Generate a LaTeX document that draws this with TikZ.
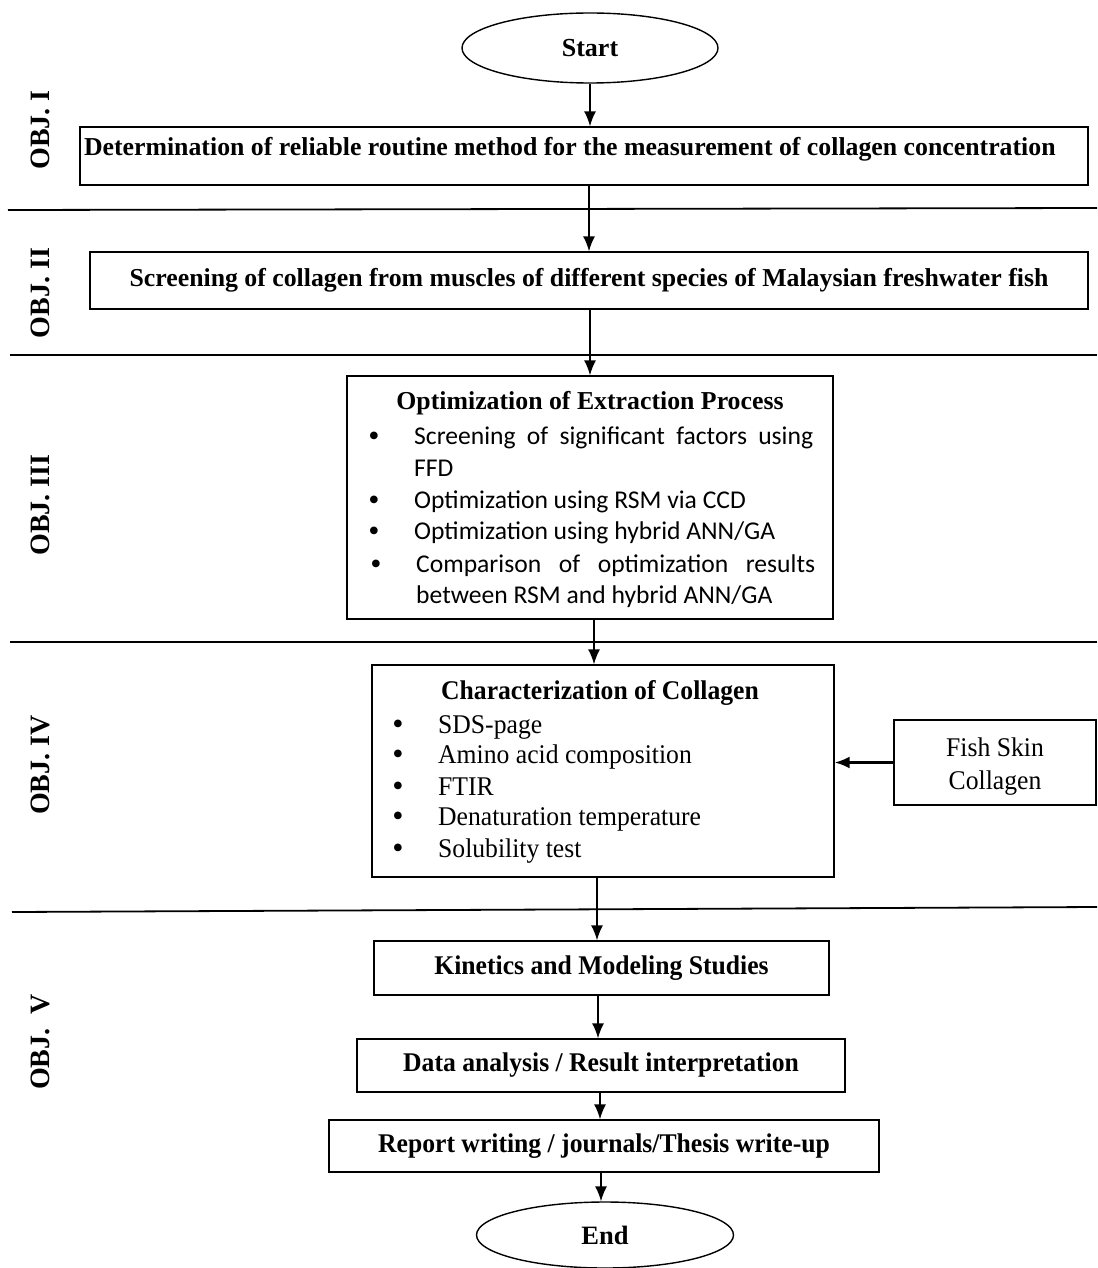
\documentclass[tikz,border=0pt]{standalone}
\usepackage{fontspec}
\setmainfont{Liberation Serif}
\newfontfamily\calibrifont{Carlito}
\newfontfamily\condserif[FakeStretch=0.95]{Liberation Serif}
\usetikzlibrary{shapes.geometric,arrows.meta}
\begin{document}
\begin{tikzpicture}[x=1pt,y=-1pt,
  box/.style={draw, line width=1.4pt, rectangle, inner sep=0pt},
  oval/.style={draw, line width=1.4pt, ellipse, inner sep=0pt},
  arr/.style={-{Latex[length=15pt,width=12pt]}, line width=1.5pt},
  sep/.style={line width=1.8pt},
  objlab/.style={rotate=90, font=\fontsize{28}{32}\selectfont\bfseries},
  bigbold/.style={font=\fontsize{25.8}{30}\selectfont\bfseries},
  condbold/.style={font=\fontsize{27}{31}\selectfont\condserif\bfseries},
  calitem/.style={anchor=base west, inner sep=0pt, font=\fontsize{25.6}{30}\selectfont\calibrifont},
  serifitem/.style={anchor=base west, inner sep=0pt, font=\fontsize{27}{31}\selectfont\condserif},
  bul/.style={anchor=base, inner sep=0pt, font=\fontsize{32}{36}\selectfont}
]
\useasboundingbox (0,0) rectangle (1097,1268);

% separator lines
\draw[sep] (8,210) -- (1097,208);
\draw[sep] (10,355) -- (1097,355);
\draw[sep] (10,642) -- (1097,642);
\draw[sep] (12,912) -- (1097,907);

% objective labels
\node[objlab] (o1) at (40,130) {OBJ. I};
\node[objlab] (o2) at (40,293) {OBJ. II};
\node[objlab] (o3) at (40,505) {OBJ. III};
\node[objlab] (o4) at (40,765) {OBJ. IV};
\node[objlab] (o5) at (40,1042) {OBJ.\ \ V};

% start / end
\node[oval, minimum width=256pt, minimum height=70pt, font=\fontsize{26}{30}\selectfont\bfseries] (start) at (590,48) {Start};
\node[oval, minimum width=257pt, minimum height=66pt, font=\fontsize{26.5}{30}\selectfont\bfseries] (end) at (605,1235) {End};

% boxes
\node[box, minimum width=1008pt, minimum height=58pt, inner xsep=4pt, bigbold] (b1) at (584,156) {\raisebox{0pt}[0pt][0pt]{\makebox[1000pt][l]{Determination of reliable routine method for the measurement of collagen concentration}}};
\node[box, minimum width=998pt, minimum height=57pt, bigbold] (b2) at (589,280.5) {Screening of collagen from muscles of different species of Malaysian freshwater fish};
\node[box, minimum width=486pt, minimum height=243pt] (b3) at (590,497.5) {};
\node[box, minimum width=462pt, minimum height=212pt] (b4) at (603,771) {};
\node[box, minimum width=202pt, minimum height=85pt, font=\fontsize{27}{33}\selectfont\condserif] (fish) at (995,762.5) {\raisebox{-3.5pt}[\height][\depth]{\begin{tabular}{@{}c@{}}Fish Skin\\Collagen\end{tabular}}};
\node[box, minimum width=455pt, minimum height=54pt, condbold] (kin) at (601.5,968) {Kinetics and Modeling Studies};
\node[box, minimum width=488pt, minimum height=53pt, condbold] (data) at (601,1065.5) {Data analysis / Result interpretation};
\node[box, minimum width=550pt, minimum height=52pt, condbold] (rep) at (604,1146) {Report writing / journals/Thesis write-up};

% box 3 contents
\node[font=\fontsize{25.8}{30}\selectfont\bfseries] (t3) at (590,403) {Optimization of Extraction Process};
\node[bul] (b3a) at (374,446) {\textbullet};
\node[calitem] (i3a) at (414,444) {\makebox[399pt][s]{Screening of significant factors using}};
\node[calitem] (i3b) at (414,476) {FFD};
\node[bul] (b3c) at (374,510) {\textbullet};
\node[calitem] (i3c) at (414,508) {Optimization using RSM via CCD};
\node[bul] (b3d) at (374,541) {\textbullet};
\node[calitem] (i3d) at (414,539) {Optimization using hybrid ANN/GA};
\node[bul] (b3e) at (376,574) {\textbullet};
\node[calitem] (i3e) at (416,572) {\makebox[399pt][s]{Comparison of optimization results}};
\node[calitem] (i3f) at (416,603) {between RSM and hybrid ANN/GA};

% box 4 contents
\node[condbold] (t4) at (600,693) {Characterization of Collagen};
\node[bul] (b4a) at (398,734) {\textbullet};
\node[serifitem] (i4a) at (438,733) {SDS-page};
\node[bul] (b4b) at (398,764) {\textbullet};
\node[serifitem] (i4b) at (438,763) {Amino acid composition};
\node[bul] (b4c) at (398,796) {\textbullet};
\node[serifitem] (i4c) at (438,795) {FTIR};
\node[bul] (b4d) at (398,826) {\textbullet};
\node[serifitem] (i4d) at (438,825) {Denaturation temperature};
\node[bul] (b4e) at (398,858) {\textbullet};
\node[serifitem] (i4e) at (438,857) {Solubility test};

% connectors
\draw[arr] (start.south) -- (start.south |- b1.north);
\draw[arr] (b2.north |- b1.south) -- (b2.north);
\draw[arr] (b3.north |- b2.south) -- (b3.north);
\draw[arr] (b3.south -| 594,0) -- (b4.north -| 594,0);
\draw[arr] (b4.south -| 597,0) -- (kin.north -| 597,0);
\draw[arr] (kin.south -| 598,0) -- (data.north -| 598,0);
\draw[arr] (data.south -| 600,0) -- (rep.north -| 600,0);
\draw[arr] (rep.south -| 601,0) -- (end.north -| 601,0);
\draw[arr, line width=2.2pt] (fish.west) -- (fish.west -| b4.east);
\end{tikzpicture}
\end{document}
